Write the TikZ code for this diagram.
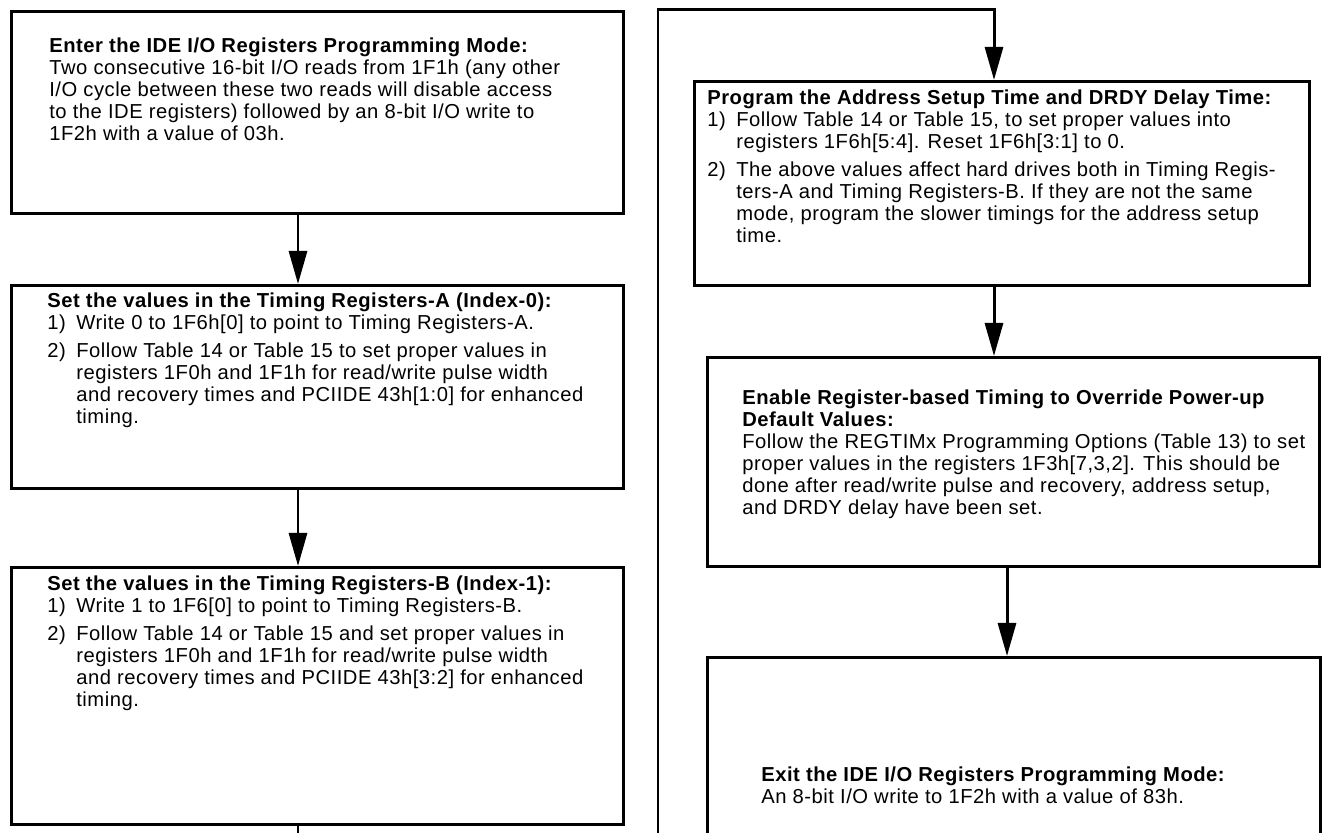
\documentclass[tikz,border=0pt]{standalone}
\usepackage{fontspec}
\setmainfont{Liberation Sans}[LetterSpace=2.5]
\usepackage{tikz}
\usetikzlibrary{arrows.meta}
\usetikzlibrary{positioning}

\begin{document}
\begin{tikzpicture}[
  stepbox/.style={rectangle, draw=black, line width=1.7pt, inner sep=0pt, anchor=north west},
  steptext/.style={inner sep=0pt, font=\fontsize{11.5}{12.5}\selectfont},
  flow/.style={black, line width=1.7pt, -{Triangle[length=0.66cm,width=0.36cm]}}
]

\newcommand\ind{0.58cm}

%\draw[step=1cm, gray, very thin, dotted] (0,0) grid (26,16);
\useasboundingbox (0,0) rectangle (26.46,16.66);
\clip (0,0) rectangle (26.46,16.66);

% left column
\node at (0.2,16.46) [stepbox, minimum width=12.24cm, minimum height=4.04cm] (enter) {};
\node [steptext, below right=0.54cm and 0.78cm of enter.north west] (entertxt) {%
\begin{tabular}{@{}l@{}}
\textbf{Enter the IDE I/O Registers Programming Mode:}\\
Two consecutive 16-bit I/O reads from 1F1h (any other\\
I/O cycle between these two reads will disable access\\
to the IDE registers) followed by an 8-bit I/O write to\\
1F2h with a value of 03h.
\end{tabular}};

\node at (0.2,10.98) [stepbox, minimum width=12.24cm, minimum height=4.06cm] (timA) {};
\node [steptext, below right=0.16cm and 0.74cm of timA.north west] (timAtxt) {%
\begin{tabular}{@{}p{\ind}@{}l@{}}
\multicolumn{2}{@{}l@{}}{\textbf{Set the values in the Timing Registers-A (Index-0):}}\\
1) & Write 0 to 1F6h[0] to point to Timing Registers-A.\\[3.4pt]
2) & Follow Table 14 or Table 15 to set proper values in\\
   & registers 1F0h and 1F1h for read/write pulse width\\
   & and recovery times and PCIIDE 43h[1:0] for enhanced\\
   & timing.
\end{tabular}};

\node at (0.2,5.34) [stepbox, minimum width=12.24cm, minimum height=5.14cm] (timB) {};
\node [steptext, below right=0.18cm and 0.74cm of timB.north west] (timBtxt) {%
\begin{tabular}{@{}p{\ind}@{}l@{}}
\multicolumn{2}{@{}l@{}}{\textbf{Set the values in the Timing Registers-B (Index-1):}}\\
1) & Write 1 to 1F6[0] to point to Timing Registers-B.\\[3.4pt]
2) & Follow Table 14 or Table 15 and set proper values in\\
   & registers 1F0h and 1F1h for read/write pulse width\\
   & and recovery times and PCIIDE 43h[3:2] for enhanced\\
   & timing.
\end{tabular}};

% right column
\node at (13.86,15.06) [stepbox, minimum width=12.3cm, minimum height=4.08cm] (addr) {};
\node [steptext, below right=0.18cm and 0.28cm of addr.north west] (addrtxt) {%
\begin{tabular}{@{}p{\ind}@{}l@{}}
\multicolumn{2}{@{}l@{}}{\textbf{Program the Address Setup Time and DRDY Delay Time:}}\\
1) & Follow Table 14 or Table 15, to set proper values into\\
   & registers 1F6h[5:4]. Reset 1F6h[3:1] to 0.\\[3.4pt]
2) & The above values affect hard drives both in Timing Regis-\\
   & ters-A and Timing Registers-B. If they are not the same\\
   & mode, program the slower timings for the address setup\\
   & time.
\end{tabular}};

\node at (14.12,9.54) [stepbox, minimum width=12.24cm, minimum height=4.18cm] (regtim) {};
\node [steptext, below right=0.66cm and 0.72cm of regtim.north west] (regtimtxt) {%
\begin{tabular}{@{}l@{}}
\textbf{Enable Register-based Timing to Override Power-up}\\
\textbf{Default Values:}\\
Follow the REGTIMx Programming Options (Table 13) to set\\
proper values in the registers 1F3h[7,3,2]. This should be\\
done after read/write pulse and recovery, address setup,\\
and DRDY delay have been set.
\end{tabular}};

\node at (14.12,3.54) [stepbox, minimum width=12.26cm, minimum height=4.96cm] (exit) {};
\node [steptext, below right=2.2cm and 1.1cm of exit.north west] (exittxt) {%
\begin{tabular}{@{}l@{}}
\textbf{Exit the IDE I/O Registers Programming Mode:}\\
An 8-bit I/O write to 1F2h with a value of 83h.
\end{tabular}};

% connectors
\coordinate (lcol) at (5.96,0);
\coordinate (botr) at (13.16,-0.6);
\coordinate (topm) at (19.88,16.46);
\coordinate (rarr) at (19.88,0);
\coordinate (rarrb) at (20.14,0);

\draw[flow] (enter.south -| lcol) -- (timA.north -| lcol);
\draw[flow] (timA.south -| lcol) -- (timB.north -| lcol);
\draw[flow] (timB.south -| lcol) |- (botr) |- (topm) -- (addr.north -| topm);
\draw[flow] (addr.south -| rarr) -- (regtim.north -| rarr);
\draw[flow] (regtim.south -| rarrb) -- (exit.north -| rarrb);

\end{tikzpicture}
\end{document}
